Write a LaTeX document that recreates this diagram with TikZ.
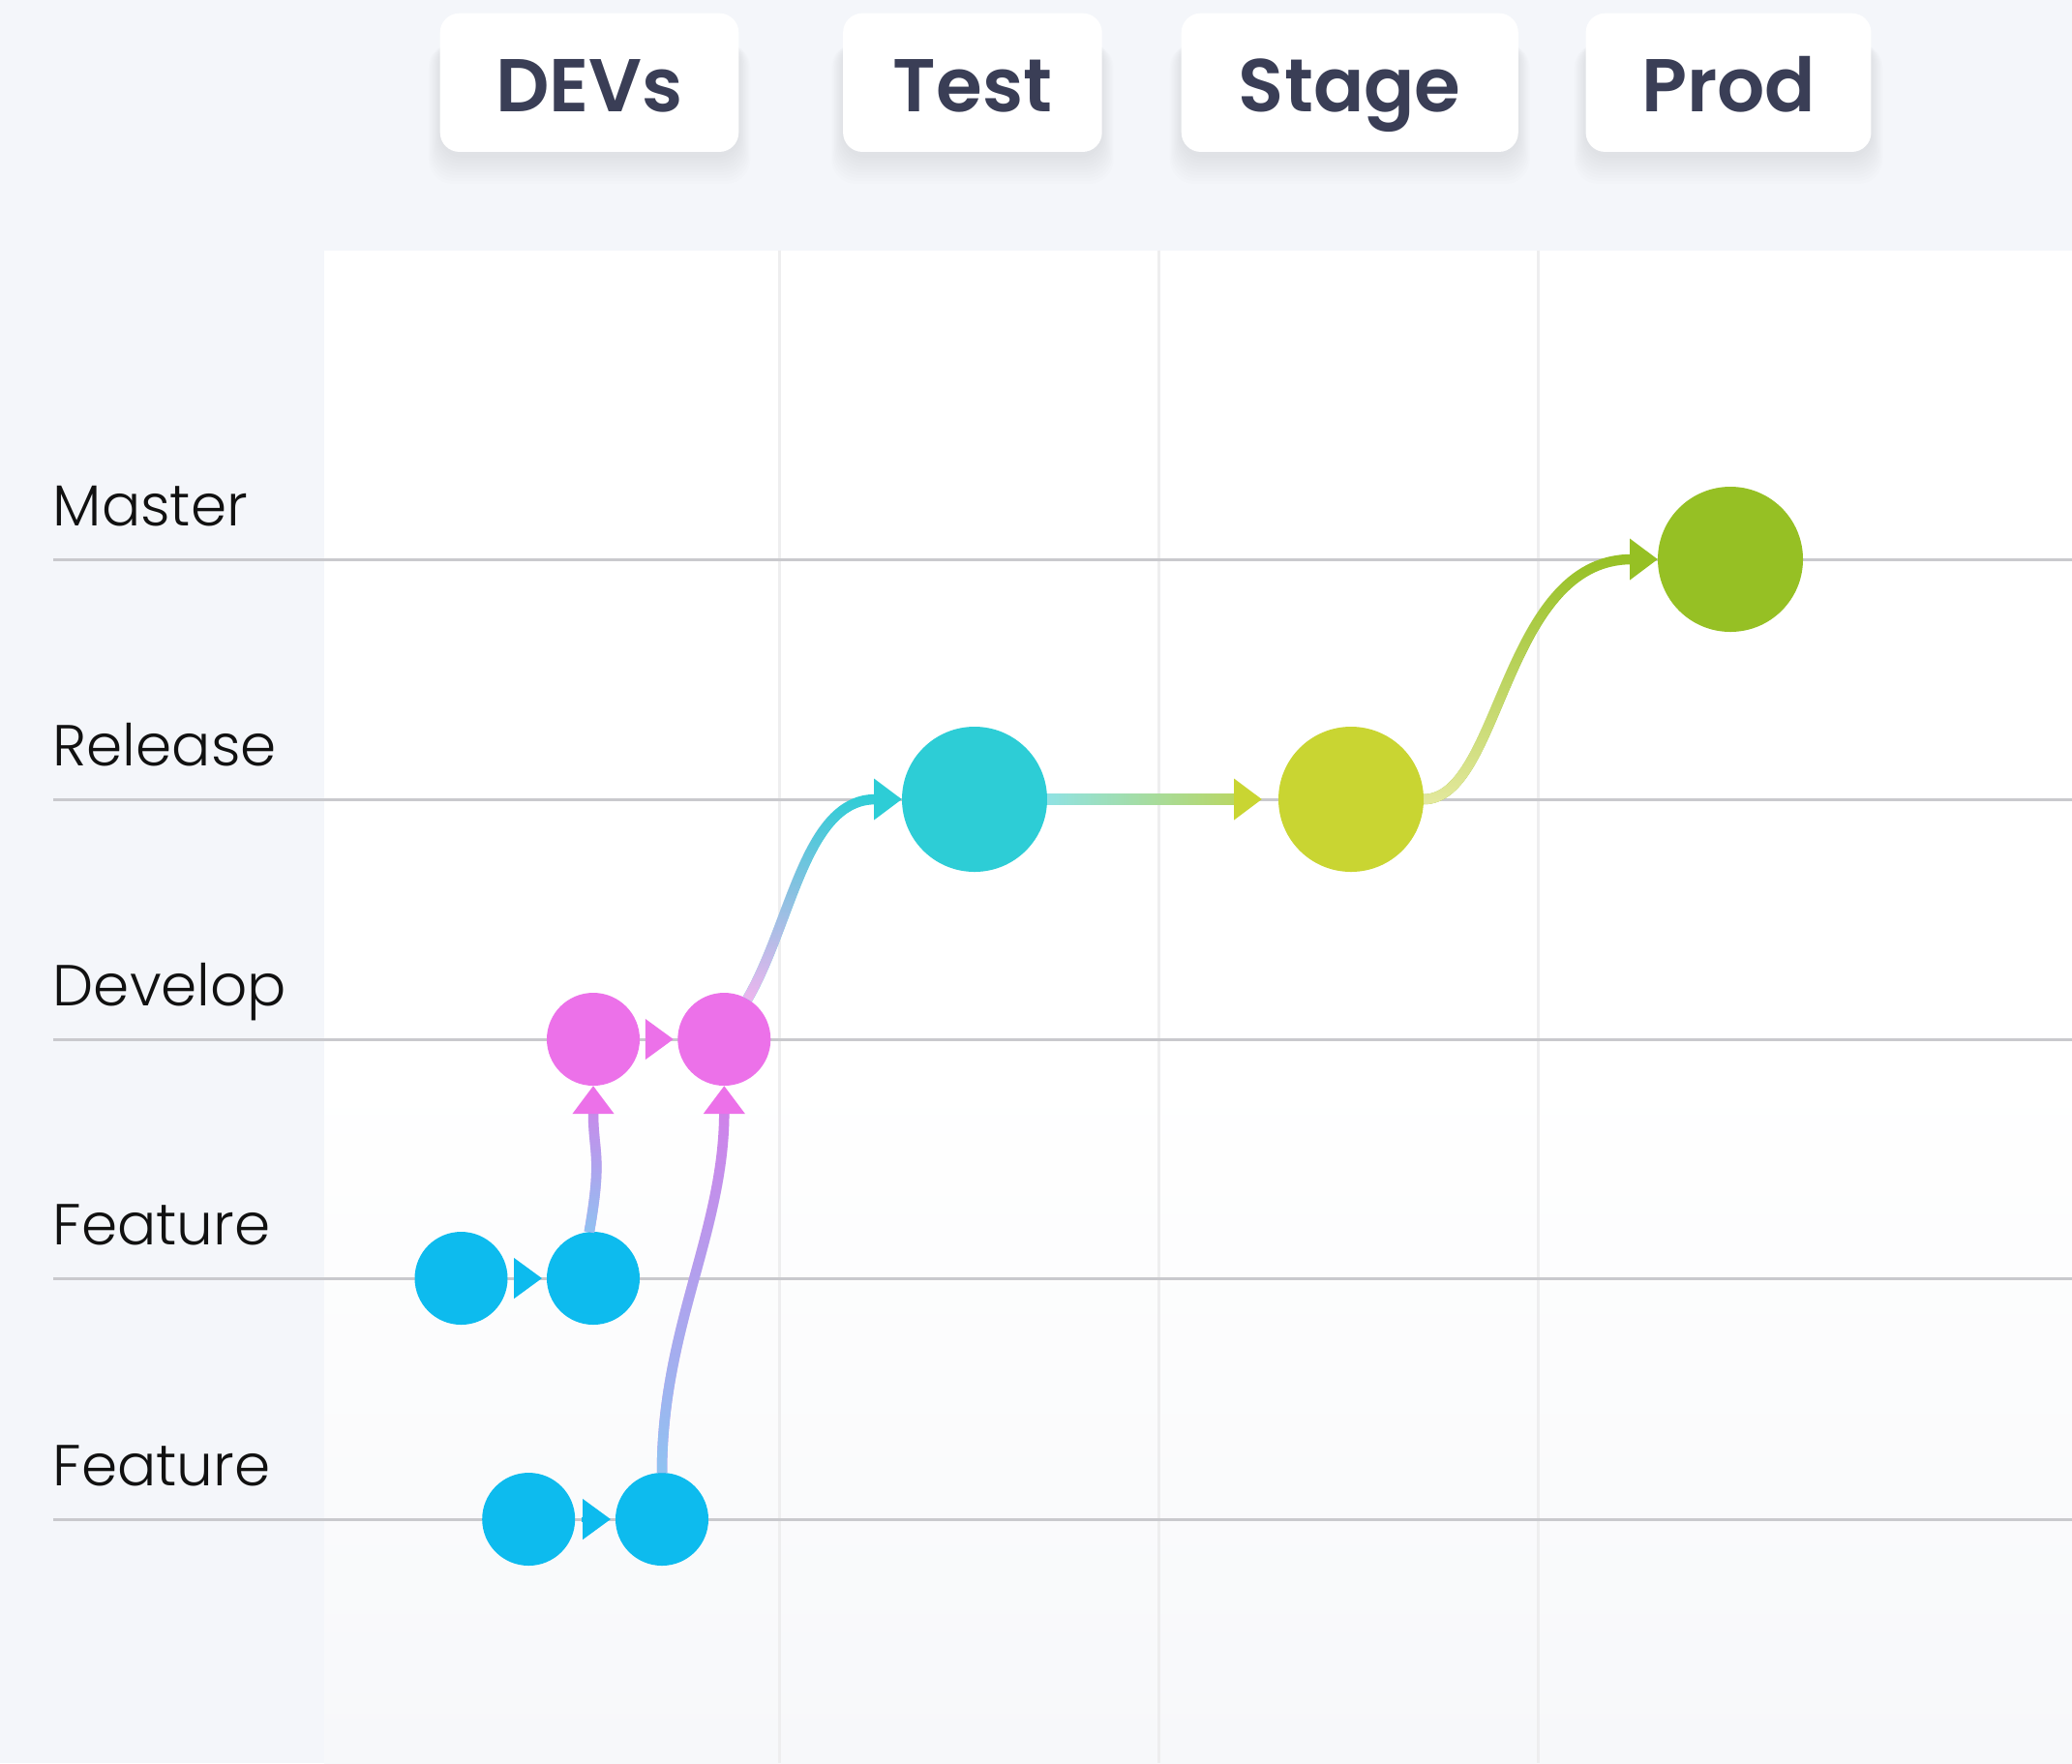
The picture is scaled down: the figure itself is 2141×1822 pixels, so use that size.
\documentclass[tikz,border=0pt]{standalone}
\usepackage{fontspec}
\setmainfont{Poppins}
\newfontfamily\labfont{Poppins Light}
\newfontfamily\headfont{Poppins SemiBold}
\usetikzlibrary{arrows.meta,fadings}

\definecolor{bgcol}{HTML}{F4F6FA}
\definecolor{panelbot}{HTML}{F7F8FA}
\definecolor{gridv}{HTML}{EEEEEF}
\definecolor{gridh}{HTML}{C9C9CD}
\definecolor{headtxt}{HTML}{3A3E56}
\definecolor{labtxt}{HTML}{111111}
\definecolor{featc}{HTML}{0DBBEE}
\definecolor{devc}{HTML}{EC71E9}
\definecolor{testc}{HTML}{2DCDD6}
\definecolor{stagec}{HTML}{C9D532}
\definecolor{prodc}{HTML}{96C024}
\definecolor{lightblue}{HTML}{8FC4F2}
\definecolor{purplec}{HTML}{D57DE9}
\definecolor{lightpink}{HTML}{F2B5EF}
\definecolor{lightlime}{HTML}{E4E99E}
\definecolor{lightteal}{HTML}{8FE3E8}
\definecolor{limec}{HTML}{C4D444}

\tikzfading[name=fadeup, bottom color=transparent!0, top color=transparent!100]
\tikzfading[name=faderight, left color=transparent!0, right color=transparent!100]

\newcommand\hshadow[2]{%
  \foreach \k in {1,...,10}{%
    \fill[black, opacity=0.006, rounded corners=2.5mm]
      ({#1-\k*1.2},{40+\k*0.5}) rectangle ({#2+\k*1.2},{160+\k*3});}}

\begin{document}
\begin{tikzpicture}[x=0.1mm, y=-0.1mm,
  headbox/.style={rectangle, fill=white, rounded corners=2mm, minimum height=14.33mm,
    text height=5.94mm, text depth=0pt, inner sep=0pt, outer sep=0pt,
    font=\headfont\fontsize{22}{22}\selectfont, text=headtxt},
  lane/.style={font=\labfont\fontsize{17}{17}\selectfont, text=labtxt, anchor=base west, inner sep=0pt},
  hline/.style={draw=gridh, line width=0.3mm},
  vline/.style={draw=gridv, line width=0.33mm},
  big/.style={circle, minimum size=15mm, inner sep=0pt, outer sep=0pt},
  small/.style={circle, minimum size=9.6mm, inner sep=0pt, outer sep=0pt},
  tip/.style={-{Triangle[length=2.9mm, width=4.1mm]}},
  flow/.style={line width=1.05mm},
]
% background and bounding box
\fill[bgcol] (0,0) rectangle (2141,1822);
\useasboundingbox (0,0) rectangle (2141,1822);
\fill[white] (335,258.7) rectangle (2141,1100);
\shade[top color=white, bottom color=panelbot] (335,1100) rectangle (2141,1822);

% grid
\foreach \gx in {805.6,1197.5,1589.4} \draw[vline] (\gx,258.7) -- (\gx,1822);
\foreach \gy in {578,826,1074,1321,1570} \draw[hline] (55,\gy) -- (2141,\gy);

% header boxes with soft shadows
\hshadow{454.7}{763.3}
\hshadow{871.1}{1138.7}
\hshadow{1220.7}{1568.8}
\hshadow{1638.5}{1933.5}
\node[headbox, minimum width=30.86mm] (hdev) at (609,85.3) {DEVs};
\node[headbox, minimum width=26.76mm] (htest) at (1004.9,85.3) {Test};
\node[headbox, minimum width=34.81mm] (hstage) at (1394.75,85.3) {Stage};
\node[headbox, minimum width=29.49mm] (hprod) at (1786,85.3) {Prod};

% lane labels
\node[lane] (lmaster) at (54,543) {Master};
\node[lane] (lrelease) at (54,791) {Release};
\node[lane] (ldevelop) at (54,1039) {Develop};
\node[lane] (lfeat1) at (54,1286) {Feature};
\node[lane] (lfeat2) at (54,1535) {Feature};

% commits
\node[big, fill=prodc] (prod) at (1788,578) {};
\node[big, fill=testc] (test) at (1007,826) {};
\node[big, fill=stagec] (stage) at (1396,826) {};
\node[small, fill=devc] (dev1) at (613,1074) {};
\node[small, fill=devc] (dev2) at (748.3,1074) {};
\node[small, fill=featc] (f1a) at (476.5,1321) {};
\node[small, fill=featc] (f1b) at (613,1321) {};
\node[small, fill=featc] (f2a) at (546.2,1570) {};
\node[small, fill=featc] (f2b) at (684,1570) {};

% short arrows
\draw[featc, line width=0.5mm, tip, shorten <=0.7mm, shorten >=0.5mm] (f1a) -- (f1b);
\draw[featc, line width=0.5mm, tip, shorten <=0.7mm, shorten >=0.5mm] (f2a) -- (f2b);
\draw[devc, line width=0.5mm, tip, shorten <=0.7mm, shorten >=0.45mm] (dev1) -- (dev2);

% feature -> develop merges
\draw[flow, purplec, -{Triangle[length=2.9mm, width=4.1mm, color=devc]}]
  (f1b.95) .. controls +(14,-79) and +(0,70) .. (dev1.south);
\draw[flow, lightblue, path fading=fadeup, shorten >=2.9mm]
  (f1b.95) .. controls +(14,-79) and +(0,70) .. (dev1.south);
\draw[flow, purplec, -{Triangle[length=2.9mm, width=4.1mm, color=devc]}]
  (f2b.north) .. controls +(0,-150) and +(0,150) .. (dev2.south);
\draw[flow, lightblue, path fading=fadeup, shorten >=2.9mm]
  (f2b.north) .. controls +(0,-150) and +(0,150) .. (dev2.south);

% develop -> test
\draw[flow, testc, tip] (dev2) .. controls +(70,-121) and +(-175,0) .. (test);
\draw[flow, lightpink, path fading=fadeup, shorten >=2.9mm]
  (dev2) .. controls +(70,-121) and +(-175,0) .. (test);

% test -> stage
\draw[line width=1.15mm, limec, -{Triangle[length=2.9mm, width=4.1mm, color=stagec]}, shorten >=1.7mm] (test) -- (stage);
\draw[line width=1.15mm, lightteal, path fading=faderight, shorten >=4.6mm] (test) -- (stage);

% stage -> prod
\draw[flow, prodc, tip] (stage) .. controls +(155,0) and +(-235,0) .. (prod);
\draw[flow, lightlime, path fading=fadeup, shorten >=2.9mm]
  (stage) .. controls +(155,0) and +(-235,0) .. (prod);
\end{tikzpicture}
\end{document}
